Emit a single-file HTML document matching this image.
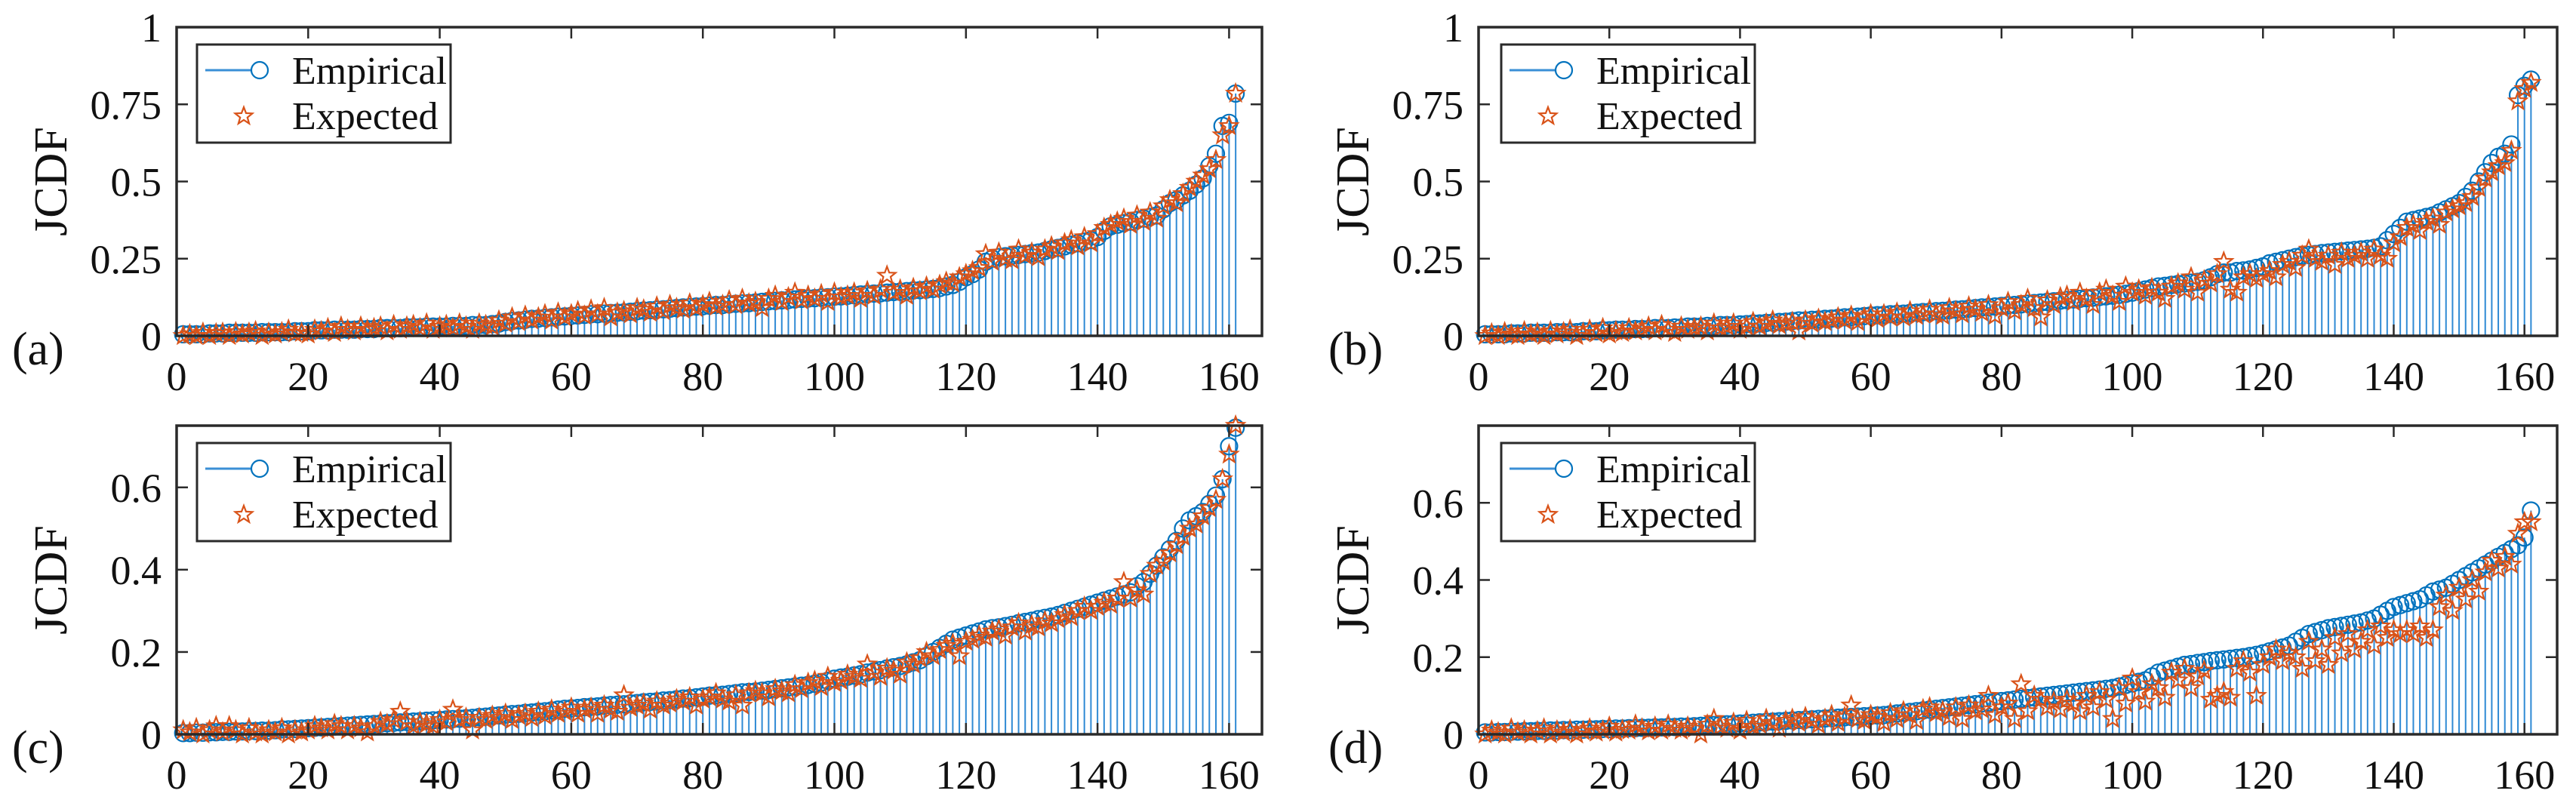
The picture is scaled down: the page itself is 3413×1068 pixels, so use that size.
<!DOCTYPE html>
<html><head><meta charset="utf-8"><style>
html,body{margin:0;padding:0;background:#fff;}
svg{display:block;}
text{font-family:"Liberation Serif",serif;fill:#111;}
</style></head><body>
<svg id="fig" width="3413" height="1068" viewBox="0 0 3413 1068" xmlns="http://www.w3.org/2000/svg"></svg>
<script>
const xTicks=[0,20,40,60,80,100,120,140,160];
const yTicksAB=[0,0.25,0.5,0.75,1];
const yLabelsAB=['0','0.25','0.5','0.75','1'];
const yTicksCD=[0,0.2,0.4,0.6];
const yLabelsCD=['0','0.2','0.4','0.6'];
const seriesNames=['Empirical','Expected'];

const empA=[.005,.005,.005,.005,.008,.008,.008,.01,.01,.01,.01,.01,.012,.012,.012,.012,.012,.015,.015,.015,
.018,.018,.018,.02,.02,.02,.02,.022,.022,.022,.025,.025,.025,.025,.028,.028,.028,.03,.03,.03,
.03,.032,.032,.032,.035,.035,.035,.038,.04,.045,.048,.05,.052,.055,.056,.058,.06,.062,.063,.065,
.066,.068,.07,.07,.072,.074,.075,.076,.078,.08,.082,.083,.085,.086,.088,.09,.092,.093,.095,.096,
.098,.1,.1,.102,.104,.105,.106,.108,.11,.112,.113,.115,.116,.118,.12,.121,.122,.124,.125,.127,
.128,.13,.132,.134,.135,.137,.138,.14,.142,.143,.145,.147,.148,.15,.152,.155,.16,.165,.175,.19,
.2,.215,.24,.25,.255,.258,.26,.262,.265,.268,.27,.275,.28,.285,.29,.295,.3,.305,.31,.32,
.34,.355,.36,.365,.37,.375,.38,.385,.39,.41,.43,.44,.455,.47,.49,.51,.55,.59,.68,.69,.785];
const expA=[0,.005,0,.01,0,.008,.01,0,.012,.005,.01,.015,0,.01,.005,.012,.02,.008,.01,.005,
.02,.015,.025,.01,.03,.02,.015,.03,.02,.025,.03,.015,.035,.02,.03,.035,.025,.04,.02,.03,
.035,.025,.04,.03,.02,.04,.035,.03,.05,.04,.06,.045,.065,.05,.06,.07,.05,.075,.06,.07,
.08,.065,.085,.07,.09,.06,.075,.08,.07,.09,.085,.075,.095,.08,.1,.09,.085,.105,.09,.1,
.11,.095,.1,.115,.1,.12,.105,.11,.09,.12,.13,.11,.125,.14,.115,.13,.12,.135,.11,.14,
.125,.13,.14,.12,.145,.13,.15,.195,.14,.15,.13,.155,.145,.16,.15,.165,.175,.17,.19,.2,
.21,.22,.265,.24,.27,.25,.245,.28,.26,.27,.255,.28,.29,.275,.3,.31,.29,.32,.3,.33,
.35,.36,.37,.38,.36,.39,.37,.4,.38,.42,.44,.43,.46,.48,.5,.52,.54,.57,.65,.68,.785];

const empB=[.005,.005,.005,.005,.008,.008,.008,.01,.01,.01,.01,.012,.012,.012,.012,.015,.015,.015,.018,.018,
.02,.02,.02,.022,.022,.022,.025,.025,.025,.027,.027,.03,.03,.03,.032,.032,.035,.035,.035,.037,
.038,.04,.04,.042,.043,.045,.046,.048,.05,.05,.052,.053,.055,.056,.058,.06,.061,.062,.064,.066,
.067,.068,.07,.071,.072,.074,.075,.077,.078,.08,.081,.083,.085,.086,.088,.09,.092,.093,.095,.097,
.099,.1,.102,.104,.106,.108,.11,.112,.114,.116,.118,.12,.122,.124,.126,.128,.13,.133,.136,.14,
.145,.15,.155,.16,.162,.165,.168,.17,.172,.175,.18,.19,.2,.205,.205,.21,.212,.215,.22,.225,
.235,.24,.245,.25,.255,.26,.262,.265,.268,.27,.272,.274,.276,.278,.28,.282,.285,.29,.31,.33,
.35,.37,.375,.38,.385,.39,.4,.41,.42,.43,.45,.47,.5,.53,.56,.58,.59,.62,.78,.81,.83];
const expB=[0,.008,0,.012,.005,0,.015,.005,.01,0,.015,.005,.012,.02,0,.01,.02,.008,.025,.005,
.015,.01,.025,.015,.02,.03,.015,.035,.02,.01,.03,.02,.025,.03,.015,.04,.025,.03,.04,.02,
.03,.045,.03,.04,.05,.035,.04,.045,.015,.05,.04,.055,.045,.05,.06,.05,.065,.045,.06,.07,
.055,.07,.06,.075,.06,.08,.065,.07,.085,.07,.065,.09,.08,.07,.095,.085,.075,.1,.065,.09,
.11,.08,.1,.12,.09,.06,.115,.1,.125,.13,.11,.14,.12,.1,.14,.15,.13,.11,.16,.14,
.15,.13,.155,.14,.12,.16,.17,.15,.19,.14,.18,.17,.2,.24,.15,.14,.19,.2,.185,.2,
.21,.19,.23,.24,.22,.26,.28,.25,.24,.26,.23,.27,.25,.26,.27,.25,.28,.26,.25,.3,
.32,.35,.36,.34,.37,.38,.36,.4,.41,.42,.43,.45,.48,.51,.53,.55,.56,.6,.76,.8,.82];

const empC=[.003,.003,.004,.004,.005,.005,.006,.006,.007,.007,.008,.008,.009,.009,.01,.012,.012,.013,.014,.015,
.016,.017,.018,.019,.02,.021,.022,.023,.024,.025,.026,.027,.028,.029,.03,.031,.032,.033,.034,.035,
.036,.037,.038,.039,.04,.042,.043,.045,.046,.048,.049,.05,.052,.053,.055,.056,.058,.06,.062,.063,
.064,.066,.067,.068,.07,.071,.072,.073,.075,.076,.078,.079,.08,.082,.083,.085,.087,.088,.09,.092,
.094,.095,.096,.098,.1,.102,.103,.104,.106,.108,.11,.112,.114,.116,.118,.12,.123,.126,.13,.135,
.138,.14,.143,.146,.15,.153,.156,.16,.163,.166,.17,.175,.18,.19,.2,.21,.22,.23,.235,.24,
.245,.25,.255,.258,.26,.263,.266,.27,.273,.276,.28,.283,.286,.29,.295,.3,.305,.31,.315,.32,
.325,.33,.335,.34,.345,.36,.37,.39,.41,.43,.45,.47,.5,.52,.53,.54,.56,.58,.62,.7,.745];
const expC=[.01,.005,.015,0,.01,.02,.005,.02,.01,0,.015,.005,0,.01,.005,.015,0,.01,.005,.01,
.02,.015,.01,.025,.02,.01,.02,.015,.005,.02,.03,.025,.035,.055,.03,.02,.03,.025,.02,.035,
.03,.06,.035,.04,.01,.04,.035,.045,.04,.05,.035,.045,.05,.04,.055,.045,.06,.05,.055,.065,
.05,.06,.065,.05,.07,.06,.055,.095,.065,.07,.075,.06,.08,.07,.075,.085,.08,.09,.07,.085,
.09,.1,.085,.08,.095,.07,.1,.105,.1,.09,.11,.105,.1,.12,.11,.125,.13,.115,.14,.125,
.13,.145,.14,.135,.17,.15,.14,.16,.155,.145,.175,.17,.185,.2,.19,.205,.215,.22,.19,.225,
.23,.24,.235,.25,.255,.24,.26,.27,.25,.265,.26,.275,.27,.28,.29,.285,.3,.31,.3,.31,
.32,.315,.33,.37,.33,.35,.34,.39,.41,.42,.44,.46,.48,.5,.51,.53,.55,.57,.62,.68,.75];

const empD=[.005,.005,.006,.006,.007,.007,.008,.008,.009,.009,.01,.01,.011,.011,.012,.012,.013,.013,.014,.014,
.015,.015,.016,.016,.017,.017,.018,.018,.019,.019,.02,.02,.021,.022,.023,.024,.025,.026,.027,.028,
.029,.03,.031,.032,.033,.034,.035,.036,.037,.038,.039,.04,.041,.042,.043,.044,.045,.046,.047,.048,
.049,.05,.052,.054,.056,.058,.06,.062,.064,.066,.068,.07,.072,.074,.076,.078,.08,.082,.084,.086,
.088,.09,.092,.094,.096,.098,.1,.102,.104,.106,.108,.11,.112,.114,.116,.118,.12,.124,.128,.132,
.136,.14,.15,.16,.165,.17,.175,.18,.182,.185,.187,.19,.192,.194,.196,.198,.2,.203,.206,.21,
.215,.22,.225,.23,.24,.25,.26,.265,.27,.275,.278,.281,.284,.287,.29,.295,.3,.31,.32,.33,
.335,.34,.345,.35,.36,.37,.375,.38,.39,.4,.41,.42,.43,.44,.45,.46,.47,.48,.49,.51,.58];
const expD=[0,.01,.005,0,.015,.005,.01,0,.008,.015,0,.01,.005,.012,0,.008,.015,.005,.01,.02,
.005,.012,.01,.025,.015,.008,.02,.01,.025,.015,.01,.02,.015,0,.025,.04,.02,.015,.03,.01,
.035,.02,.025,.04,.03,.015,.035,.04,.03,.045,.035,.025,.04,.05,.03,.045,.075,.04,.035,.05,
.045,.03,.055,.04,.06,.05,.035,.065,.07,.055,.06,.045,.07,.04,.075,.06,.065,.1,.05,.07,
.08,.04,.13,.06,.1,.09,.07,.085,.065,.09,.08,.06,.1,.07,.11,.09,.04,.12,.08,.145,
.11,.085,.13,.12,.095,.16,.14,.17,.12,.15,.165,.09,.1,.11,.095,.17,.19,.16,.1,.18,
.2,.22,.19,.21,.2,.17,.24,.19,.22,.18,.25,.21,.26,.22,.24,.27,.23,.28,.25,.27,
.26,.27,.26,.28,.25,.27,.33,.36,.32,.38,.35,.4,.37,.42,.45,.43,.46,.44,.52,.55,.55];

const NS='http://www.w3.org/2000/svg';
const svg=document.getElementById('fig');
function mk(tag,attrs,parent){const e=document.createElementNS(NS,tag);for(const k in attrs)e.setAttribute(k,attrs[k]);(parent||svg).appendChild(e);return e;}
function starPath(cx,cy,R){const r=R*0.42;let d='';for(let i=0;i<10;i++){const a=-Math.PI/2+i*Math.PI/5;const rr=i%2?r:R;d+=(i?'L':'M')+(cx+rr*Math.cos(a)).toFixed(1)+','+(cy+rr*Math.sin(a)).toFixed(1);}return d+'Z';}

const BLUE='#0072BD', ORANGE='#D95319';
const panels=[
 {id:'a',L:234,R:1672,T:36,B:445,ymax:1,yt:yTicksAB,yl:yLabelsAB,emp:empA,exp:expA,lx:88,tagx:16,legx:261},
 {id:'b',L:1959,R:3388,T:36,B:445,ymax:1,yt:yTicksAB,yl:yLabelsAB,emp:empB,exp:expB,lx:1813,tagx:1760,legx:1989},
 {id:'c',L:234,R:1672,T:564,B:973,ymax:0.75,yt:yTicksCD,yl:yLabelsCD,emp:empC,exp:expC,lx:88,tagx:16,legx:261},
 {id:'d',L:1959,R:3388,T:564,B:973,ymax:0.8,yt:yTicksCD,yl:yLabelsCD,emp:empD,exp:expD,lx:1813,tagx:1760,legx:1989}
];
const XMAX=165;

panels.forEach(p=>{
 const g=mk('g',{});
 
 
 const xs=v=>p.L+(v/XMAX)*(p.R-p.L);
 const ys=v=>p.B-(v/p.ymax)*(p.B-p.T);
 // stems
 const stems=mk('g',{stroke:'#2f8ad4','stroke-width':2},g);
 
 
 p.emp.forEach((v,i)=>{
  const ln=mk('line',{x1:xs(i+1),x2:xs(i+1),y1:ys(0),y2:ys(v)},stems);
  
  
 });
 const circs=mk('g',{stroke:BLUE,'stroke-width':2.2,fill:'none'},g);
 
 
 p.emp.forEach((v,i)=>{
  const c=mk('circle',{cx:xs(i+1),cy:ys(v),r:11},circs);
  
  
 });
 const stars=mk('g',{stroke:ORANGE,'stroke-width':2.2,fill:'none'},g);
 
 
 p.exp.forEach((v,i)=>{
  const s=mk('path',{d:starPath(xs(i+1),ys(v),12)},stars);
  
  
 });
 // axes box
 const box=mk('rect',{x:p.L,y:p.T,width:p.R-p.L,height:p.B-p.T,fill:'none',stroke:'#2a2a2a','stroke-width':3.5},g);
 
 
 // x ticks
 xTicks.forEach(t=>{
  const x=xs(t);
  mk('line',{x1:x,x2:x,y1:p.B,y2:p.B-15,stroke:'#2a2a2a','stroke-width':2.5},g);
  mk('line',{x1:x,x2:x,y1:p.T,y2:p.T+15,stroke:'#2a2a2a','stroke-width':2.5},g);
  const tx=mk('text',{x:x,y:p.B+72,'text-anchor':'middle','font-size':54},g);
  tx.textContent=t;
  
  
 });
 p.yt.forEach((t,k)=>{
  const y=ys(t);
  mk('line',{x1:p.L,x2:p.L+15,y1:y,y2:y,stroke:'#2a2a2a','stroke-width':2.5},g);
  mk('line',{x1:p.R,x2:p.R-15,y1:y,y2:y,stroke:'#2a2a2a','stroke-width':2.5},g);
  const ty=mk('text',{x:p.L-20,y:y+19,'text-anchor':'end','font-size':54},g);
  ty.textContent=p.yl[k];
  
  
 });
 const yl=mk('text',{x:p.lx,y:(p.T+p.B)/2,'text-anchor':'middle','font-size':62,transform:'rotate(-90 '+p.lx+' '+((p.T+p.B)/2)+')'},g);
 yl.textContent='JCDF';
 
 
 const tag=mk('text',{x:p.tagx,y:p.B+38,'font-size':62},g);
 tag.textContent='('+p.id+')';
 
 
 // legend
 const lg=mk('g',{},g);
 
 
 const ox=p.legx, oy=p.T+23;
 mk('rect',{x:ox,y:oy,width:336,height:130,fill:'#fff',stroke:'#2a2a2a','stroke-width':3},lg);
 mk('line',{x1:ox+11,x2:ox+72,y1:oy+34,y2:oy+34,stroke:'#3a8fd6','stroke-width':3},lg);
 mk('circle',{cx:ox+83,cy:oy+34,r:11,fill:'none',stroke:BLUE,'stroke-width':2.2},lg);
 mk('path',{d:starPath(ox+62,oy+95,12),fill:'none',stroke:ORANGE,'stroke-width':2.2},lg);
 const t1=mk('text',{x:ox+126,y:oy+52,'font-size':52},lg);
 t1.textContent=seriesNames[0];
 
 
 const t2=mk('text',{x:ox+126,y:oy+112,'font-size':52},lg);
 t2.textContent=seriesNames[1];
 
 
});
</script>
</body></html>
